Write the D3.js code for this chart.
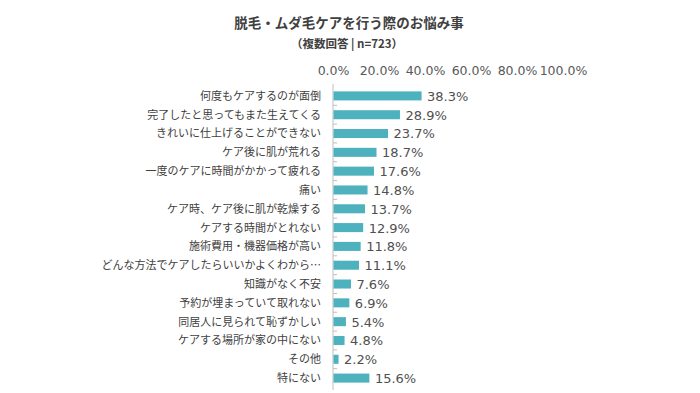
<!DOCTYPE html>
<html>
<head>
<meta charset="utf-8">
<script src="https://cdn.jsdelivr.net/npm/d3@7"></script>
<style>
  body { margin: 0; background: #fff; }
</style>
</head>
<body>
<div id="chart"></div>
<script>
var categories = ['何度もケアするのが面倒', '完了したと思ってもまた生えてくる', 'きれいに仕上げることができない',
                  'ケア後に肌が荒れる', '一度のケアに時間がかかって疲れる', '痛い', 'ケア時、ケア後に肌が乾燥する',
                  'ケアする時間がとれない', '施術費用・機器価格が高い', 'どんな方法でケアしたらいいかよくわから…',
                  '知識がなく不安', '予約が埋まっていて取れない', '同居人に見られて恥ずかしい',
                  'ケアする場所が家の中にない', 'その他', '特にない'];
var values = [38.3, 28.9, 23.7, 18.7, 17.6, 14.8, 13.7, 12.9, 11.8, 11.1, 7.6, 6.9, 5.4, 4.8, 2.2, 15.6];
var ticks = [0, 20, 40, 60, 80, 100];

var title = '脱毛・ムダ毛ケアを行う際のお悩み事';
var subtitle = '（複数回答 | n=723）';

var width = 700, height = 393;
var jp = '"Noto Sans CJK JP", "Noto Sans", sans-serif';
var num = '"DejaVu Sans", "Noto Sans CJK JP", sans-serif';

var svg = d3.select('#chart')
  .append('svg')
  .attr('width', width)
  .attr('height', height);

svg.append('rect')
  .attr('width', width)
  .attr('height', height)
  .attr('fill', 'white');

var x = d3.scaleLinear()
  .domain([0, 100])
  .range([333, 563]);

var y = d3.scaleBand()
  .domain(categories)
  .range([86.5, 387.5])
  .paddingInner(0.52)
  .paddingOuter(0.26);

// title
svg.append('text')
  .attr('x', 349)
  .attr('y', 28)
  .attr('text-anchor', 'middle')
  .attr('font-family', jp)
  .attr('font-weight', 'bold')
  .attr('font-size', 13.5)
  .attr('fill', '#404040')
  .text(title);

svg.append('text')
  .attr('x', 347)
  .attr('y', 48)
  .attr('text-anchor', 'middle')
  .attr('font-family', jp)
  .attr('font-weight', 'bold')
  .attr('font-size', 11.5)
  .attr('fill', '#404040')
  .text(subtitle);

// top axis labels
var xAxis = svg.append('g')
  .attr('transform', 'translate(0,75)')
  .call(d3.axisTop(x).tickValues(ticks).tickSize(0).tickPadding(0)
    .tickFormat(function(d) { return d.toFixed(1) + '%'; }));
xAxis.select('.domain').remove();
xAxis.selectAll('text')
  .attr('font-family', num)
  .attr('font-size', 12.5)
  .attr('fill', '#595959')
  .attr('dy', 0);

// category axis (line + ticks between bands)
var step = y.step();
var boundaries = d3.range(categories.length + 1).map(function(i) { return 86.5 + i * step; });

var g = svg.append('g');
g.append('line')
  .attr('x1', x(0)).attr('x2', x(0))
  .attr('y1', 84).attr('y2', 390)
  .attr('stroke', '#bfbfbf')
  .attr('stroke-width', 1);

g.selectAll('.tk')
  .data(boundaries.slice(1, -1))
  .enter()
  .append('line')
  .attr('x1', x(0)).attr('x2', x(0) + 4)
  .attr('y1', function(d) { return d; })
  .attr('y2', function(d) { return d; })
  .attr('stroke', '#bfbfbf')
  .attr('stroke-width', 1);

// labels
svg.selectAll('.cat')
  .data(categories)
  .enter()
  .append('text')
  .attr('x', 321)
  .attr('y', function(d) { return y(d) + y.bandwidth() / 2; })
  .attr('dy', '0.36em')
  .attr('text-anchor', 'end')
  .attr('font-family', jp)
  .attr('font-size', 11)
  .attr('fill', '#404040')
  .text(function(d) { return d; });

// bars
svg.selectAll('.bar')
  .data(values)
  .enter()
  .append('rect')
  .attr('x', x(0) + 0.5)
  .attr('y', function(d, i) { return y(categories[i]); })
  .attr('width', function(d) { return x(d) - x(0); })
  .attr('height', y.bandwidth())
  .attr('fill', '#4db2be');

svg.selectAll('.val')
  .data(values)
  .enter()
  .append('text')
  .attr('x', function(d) { return x(d) + 6; })
  .attr('y', function(d, i) { return y(categories[i]) + y.bandwidth() / 2; })
  .attr('dy', '0.38em')
  .attr('font-family', num)
  .attr('font-size', 13)
  .attr('fill', '#505050')
  .text(function(d) { return d.toFixed(1) + '%'; });
</script>
</body>
</html>
